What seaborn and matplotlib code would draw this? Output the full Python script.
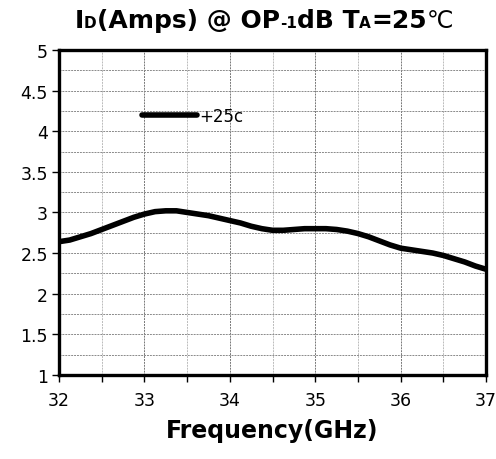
import matplotlib
matplotlib.use('Agg')
import matplotlib.pyplot as plt
import seaborn as sns
import pandas as pd
from matplotlib.ticker import MultipleLocator, FormatStrFormatter

# Data
freq_ghz = [32.0, 32.125, 32.25, 32.375, 32.5, 32.625, 32.75, 32.875,
            33.0, 33.125, 33.25, 33.375, 33.5, 33.625, 33.75, 33.875,
            34.0, 34.125, 34.25, 34.375, 34.5, 34.625, 34.75, 34.875,
            35.0, 35.125, 35.25, 35.375, 35.5, 35.625, 35.75, 35.875,
            36.0, 36.125, 36.25, 36.375, 36.5, 36.625, 36.75, 36.875, 37.0]
id_amps = [2.64, 2.66, 2.70, 2.74, 2.79, 2.84, 2.89, 2.94,
           2.98, 3.01, 3.02, 3.02, 3.00, 2.98, 2.96, 2.93,
           2.90, 2.87, 2.83, 2.80, 2.78, 2.78, 2.79, 2.80,
           2.80, 2.80, 2.79, 2.77, 2.74, 2.70, 2.65, 2.60,
           2.56, 2.54, 2.52, 2.50, 2.47, 2.43, 2.39, 2.34, 2.30]
series_label = '+25c'

df = pd.DataFrame({'freq': freq_ghz, 'id': id_amps, 'temp': series_label})

sns.set_style('white')
plt.rcParams['text.color'] = 'black'
plt.rcParams['xtick.color'] = 'black'
plt.rcParams['ytick.color'] = 'black'
plt.rcParams['axes.labelcolor'] = 'black'

fig = plt.figure(figsize=(4.96, 4.60), dpi=100)
ax = fig.add_axes([0.119, 0.183, 0.861, 0.706])

sns.lineplot(data=df, x='freq', y='id', hue='temp', palette=['black'],
             linewidth=4.0, ax=ax)
ax.get_lines()[0].set_solid_capstyle('round')
ax.get_lines()[0].set_solid_joinstyle('round')

ax.xaxis.set_major_locator(MultipleLocator(1))
ax.xaxis.set_minor_locator(MultipleLocator(0.5))
ax.yaxis.set_major_locator(MultipleLocator(0.5))
ax.yaxis.set_minor_locator(MultipleLocator(0.25))
ax.yaxis.set_major_formatter(FormatStrFormatter('%g'))
ax.set_xlim(32, 37)
ax.set_ylim(1, 5)

ax.grid(which='major', axis='x', color='#777777', linestyle=(0, (2, 1)), linewidth=0.7)
ax.grid(which='minor', axis='x', color='#bbbbbb', linestyle=(0, (2, 1)), linewidth=0.7)
ax.grid(which='both', axis='y', color='#8a8a8a', linestyle=(0, (2, 1)), linewidth=0.7)
ax.set_axisbelow(True)

ax.tick_params(axis='both', which='major', direction='out', length=5, width=1,
               bottom=True, left=True, labelsize=12.5, pad=3)
ax.tick_params(axis='x', which='minor', direction='out', length=5, width=1, bottom=True)
ax.tick_params(axis='y', which='minor', length=0)
ax.tick_params(axis='x', which='major', pad=7)

for s in ax.spines.values():
    s.set_visible(True)
    s.set_color('black')
    s.set_linewidth(2.4)

ax.set_xlabel('Frequency(GHz)', fontsize=17, fontweight='bold', labelpad=6)
ax.set_ylabel('')

leg = ax.legend(loc='upper left', bbox_to_anchor=(0.16, 0.87), frameon=False,
                handlelength=3.3, handletextpad=0.1, fontsize=12)
for h in leg.get_lines():
    h.set_linewidth(4.0)

# Title with small "subscript" pieces on a common baseline
pieces = [('I', 18, 'bold'), ('D', 11, 'bold'), ('(Amps) @ OP', 18, 'bold'),
          ('-1', 11, 'bold'), ('dB T', 18, 'bold'), ('A', 11, 'bold'),
          ('=25', 18, 'bold'), ('\u2103', 17, 'normal')]
fig.canvas.draw()
renderer = fig.canvas.get_renderer()
texts = []
x = 0
for s, size, weight in pieces:
    t = fig.text(x, 0.94, s, fontsize=size, fontweight=weight, va='baseline', ha='left')
    fig.canvas.draw()
    bb = t.get_window_extent(renderer)
    x = bb.x1 / fig.bbox.width
    texts.append(t)
total = x
shift = (264 / 496) - total / 2
for t in texts:
    px, py = t.get_position()
    t.set_position((px + shift, py))

plt.savefig('out.png', dpi=100)
